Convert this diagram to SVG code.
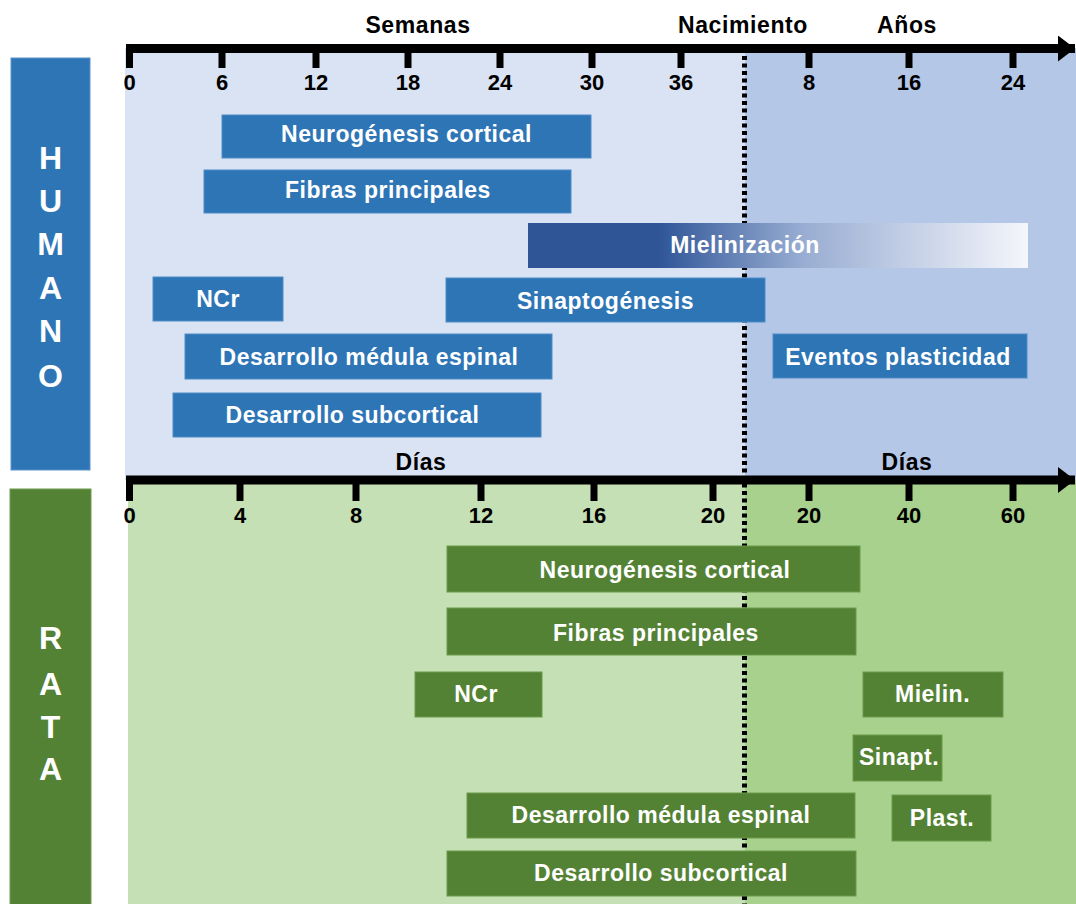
<svg xmlns="http://www.w3.org/2000/svg" width="1076" height="904" viewBox="0 0 1076 904">
<defs>
<linearGradient id="mielGrad" x1="0" y1="0" x2="1" y2="0">
<stop offset="0" stop-color="#2F5597"/>
<stop offset="0.26" stop-color="#2F5597"/>
<stop offset="0.55" stop-color="#98ADD2"/>
<stop offset="1" stop-color="#F4F6FB"/>
</linearGradient>
<marker id="arrowHead" markerUnits="userSpaceOnUse" markerWidth="18" markerHeight="26" refX="17" refY="13" orient="auto">
<path d="M0,0 L17,13 L0,26 Z" fill="#000"/>
</marker>
</defs>
<style>
.hb{fill:#2E75B6;stroke:#4F8CC7;stroke-width:1}
.gb{fill:#548235;stroke:#6A9A4A;stroke-width:1}
.bt{font-family:"Liberation Sans",Arial,sans-serif;font-weight:bold;font-size:23px;letter-spacing:0.5px;fill:#fff;text-anchor:middle}
.tl{font-family:"Liberation Sans",Arial,sans-serif;font-weight:bold;font-size:22px;fill:#000;text-anchor:middle}
.hd{font-family:"Liberation Sans",Arial,sans-serif;font-weight:bold;font-size:23px;letter-spacing:0.6px;fill:#000;text-anchor:middle}
.side{font-family:"Liberation Sans",Arial,sans-serif;font-weight:bold;font-size:32px;fill:#fff;text-anchor:middle}
.tick{stroke:#000;stroke-width:7}
.axis{stroke:#000;stroke-width:9;fill:none}
</style>
<rect width="1076" height="904" fill="#fff"/>
<g id="backgrounds">
<rect x="125" y="48" width="620" height="432" fill="#DAE3F3"/>
<rect x="745" y="48" width="331" height="432" fill="#B4C7E7"/>
<rect x="128" y="480" width="617" height="424" fill="#C5E0B4"/>
<rect x="745" y="480" width="331" height="424" fill="#A9D18E"/>
</g>
<g id="label-humano">
<rect x="11" y="58" width="79" height="412" fill="#2E75B6" stroke="#5B93CC" stroke-width="1"/>
<text class="side" x="50.5" y="169">H</text>
<text class="side" x="50.5" y="212">U</text>
<text class="side" x="50.5" y="255">M</text>
<text class="side" x="50.5" y="299">A</text>
<text class="side" x="50.5" y="342">N</text>
<text class="side" x="50.5" y="387">O</text>
</g>
<g id="label-rata">
<rect x="10" y="489" width="81" height="420" fill="#548235" stroke="#6E9B52" stroke-width="1"/>
<text class="side" x="50.5" y="649">R</text>
<text class="side" x="50.5" y="695">A</text>
<text class="side" x="50.5" y="738">T</text>
<text class="side" x="50.5" y="780">A</text>
</g>
<g id="connectors">
<line x1="744.5" y1="56" x2="744.5" y2="904" stroke="#000" stroke-width="5" stroke-dasharray="4 3.5"/>
</g>
<g id="h-neuro"><rect class="hb" x="222" y="115" width="369" height="43"/><text class="bt" x="406.5" y="142">Neurogénesis cortical</text></g>
<g id="h-fibras"><rect class="hb" x="204" y="170" width="367" height="43"/><text class="bt" x="388" y="198">Fibras principales</text></g>
<g id="h-miel"><rect x="528" y="223" width="500" height="45" fill="url(#mielGrad)"/><text class="bt" x="745" y="253">Mielinización</text></g>
<g id="h-ncr"><rect class="hb" x="153" y="277" width="130" height="44"/><text class="bt" x="218" y="307">NCr</text></g>
<g id="h-sinap"><rect class="hb" x="446" y="278" width="319" height="44"/><text class="bt" x="605.5" y="309">Sinaptogénesis</text></g>
<g id="h-medula"><rect class="hb" x="185" y="334" width="367" height="45"/><text class="bt" x="369" y="365">Desarrollo médula espinal</text></g>
<g id="h-plast"><rect class="hb" x="773" y="334" width="254" height="44"/><text class="bt" x="898" y="365">Eventos plasticidad</text></g>
<g id="h-subcort"><rect class="hb" x="173" y="393" width="368" height="44"/><text class="bt" x="352.5" y="423">Desarrollo subcortical</text></g>
<g id="r-neuro"><rect class="gb" x="447" y="546" width="413" height="46"/><text class="bt" x="665" y="578">Neurogénesis cortical</text></g>
<g id="r-fibras"><rect class="gb" x="447" y="608" width="409" height="47"/><text class="bt" x="656" y="641">Fibras principales</text></g>
<g id="r-ncr"><rect class="gb" x="415" y="672" width="127" height="45"/><text class="bt" x="476" y="702">NCr</text></g>
<g id="r-miel"><rect class="gb" x="863" y="672" width="140" height="45"/><text class="bt" x="932.5" y="702">Mielin.</text></g>
<g id="r-sinap"><rect class="gb" x="853" y="735" width="89" height="46"/><text class="bt" x="899" y="765">Sinapt.</text></g>
<g id="r-medula"><rect class="gb" x="467" y="793" width="388" height="45"/><text class="bt" x="661" y="823">Desarrollo médula espinal</text></g>
<g id="r-plast"><rect class="gb" x="892" y="795" width="99" height="46"/><text class="bt" x="942" y="826">Plast.</text></g>
<g id="r-subcort"><rect class="gb" x="447" y="851" width="409" height="45"/><text class="bt" x="661" y="881">Desarrollo subcortical</text></g>
<g id="axis-top">
<line class="axis" x1="126" y1="48.5" x2="1075" y2="48.5" marker-end="url(#arrowHead)"/>
<line class="tick" x1="129.5" y1="48" x2="129.5" y2="68"/>
<line class="tick" x1="222" y1="48" x2="222" y2="68"/>
<line class="tick" x1="316" y1="48" x2="316" y2="68"/>
<line class="tick" x1="408" y1="48" x2="408" y2="68"/>
<line class="tick" x1="500" y1="48" x2="500" y2="68"/>
<line class="tick" x1="592" y1="48" x2="592" y2="68"/>
<line class="tick" x1="681" y1="48" x2="681" y2="68"/>
<line class="tick" x1="809" y1="48" x2="809" y2="68"/>
<line class="tick" x1="909" y1="48" x2="909" y2="68"/>
<line class="tick" x1="1013" y1="48" x2="1013" y2="68"/>
<text class="tl" x="129.5" y="90">0</text>
<text class="tl" x="222" y="90">6</text>
<text class="tl" x="316" y="90">12</text>
<text class="tl" x="408" y="90">18</text>
<text class="tl" x="500" y="90">24</text>
<text class="tl" x="592" y="90">30</text>
<text class="tl" x="681" y="90">36</text>
<text class="tl" x="809" y="90">8</text>
<text class="tl" x="909" y="90">16</text>
<text class="tl" x="1013" y="90">24</text>
<text class="hd" x="418" y="33">Semanas</text>
<text class="hd" x="743" y="33">Nacimiento</text>
<text class="hd" x="907" y="33">Años</text>
</g>
<g id="axis-mid">
<line class="axis" x1="126" y1="480" x2="1075" y2="480" marker-end="url(#arrowHead)"/>
<line class="tick" x1="129.5" y1="480" x2="129.5" y2="501"/>
<line class="tick" x1="240" y1="480" x2="240" y2="501"/>
<line class="tick" x1="356" y1="480" x2="356" y2="501"/>
<line class="tick" x1="481" y1="480" x2="481" y2="501"/>
<line class="tick" x1="594" y1="480" x2="594" y2="501"/>
<line class="tick" x1="713" y1="480" x2="713" y2="501"/>
<line class="tick" x1="809" y1="480" x2="809" y2="501"/>
<line class="tick" x1="909" y1="480" x2="909" y2="501"/>
<line class="tick" x1="1013" y1="480" x2="1013" y2="501"/>
<text class="tl" x="129.5" y="523">0</text>
<text class="tl" x="240" y="523">4</text>
<text class="tl" x="356" y="523">8</text>
<text class="tl" x="481" y="523">12</text>
<text class="tl" x="594" y="523">16</text>
<text class="tl" x="713" y="523">20</text>
<text class="tl" x="809" y="523">20</text>
<text class="tl" x="909" y="523">40</text>
<text class="tl" x="1013" y="523">60</text>
<text class="hd" x="421" y="470">Días</text>
<text class="hd" x="907" y="470">Días</text>
</g>
</svg>
